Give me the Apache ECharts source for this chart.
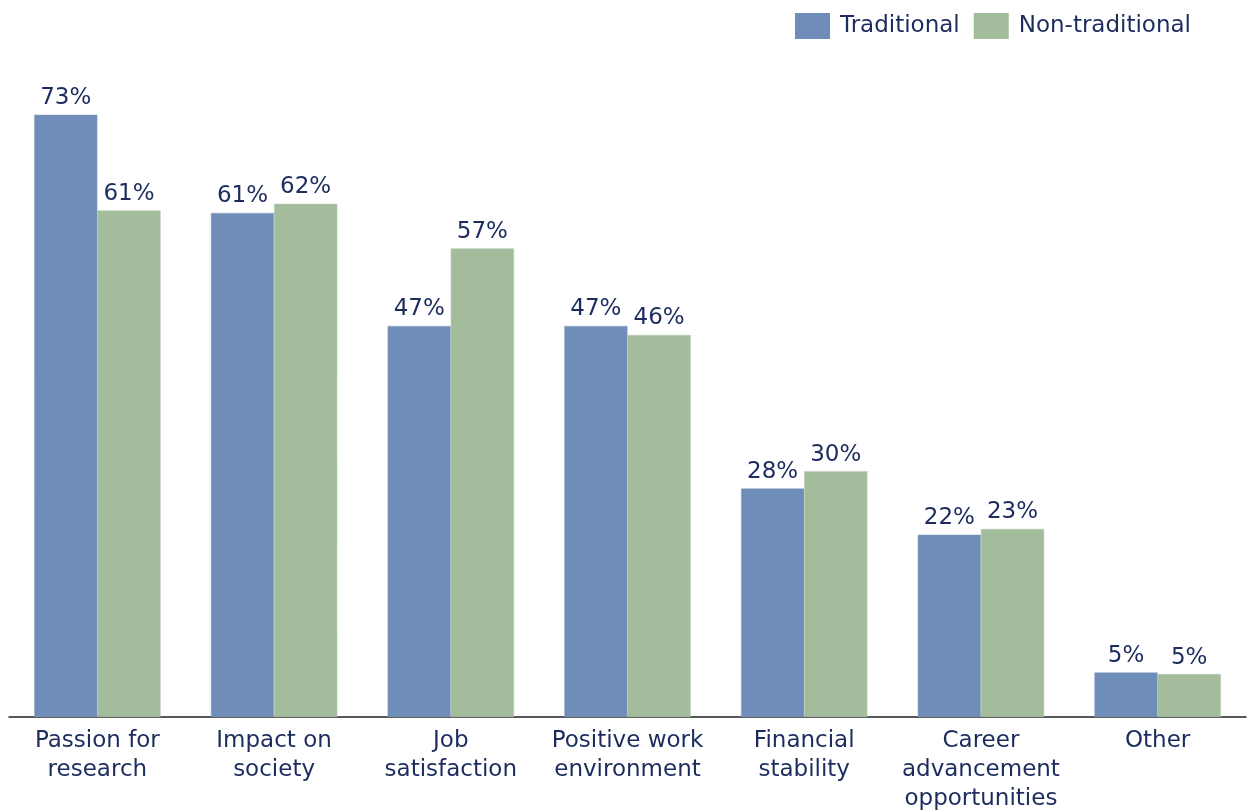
<!DOCTYPE html>
<html>
<head>
<meta charset="utf-8">
<script src="https://cdn.jsdelivr.net/npm/echarts@6/dist/echarts.min.js"></script>
<style>
  html, body { margin: 0; padding: 0; background: #fff; }
  #chart { width: 1248px; height: 812px; }
</style>
</head>
<body>
<div id="chart"></div>
<script>
const categories = [
  'Passion for\nresearch',
  'Impact on\nsociety',
  'Job\nsatisfaction',
  'Positive work\nenvironment',
  'Financial\nstability',
  'Career\nadvancement\nopportunities',
  'Other'
]
const traditional = [73.0, 61.1, 47.4, 47.4, 27.7, 22.1, 5.4]
const nonTraditional = [61.4, 62.2, 56.8, 46.3, 29.8, 22.8, 5.2]

const textColor = '#1c2c5e'
const font = '"DejaVu Sans", "Noto Sans", sans-serif'

const chart = echarts.init(document.getElementById('chart'))

const labelStyle = {
  show: true,
  position: 'top',
  distance: 5,
  color: textColor,
  fontSize: 23,
  fontFamily: font,
  formatter: p => Math.round(p.value) + '%'
}

chart.setOption({
  animation: false,
  legend: {
    right: 52,
    top: 8,
    icon: 'rect',
    itemWidth: 35,
    itemHeight: 26,
    itemGap: 14,
    itemStyle: { borderWidth: 0 },
    textStyle: { color: textColor, fontSize: 23, fontFamily: font, padding: [0, 0, 0, 5] },
    data: ['Traditional', 'Non-traditional']
  },
  grid: { left: 9, right: 2, top: 57, bottom: 95, containLabel: false, outerBoundsMode: 'none' },
  xAxis: {
    type: 'category',
    data: categories,
    axisLine: { lineStyle: { color: '#222', width: 1.5 } },
    axisTick: { show: false },
    axisLabel: {
      color: textColor,
      fontSize: 23,
      fontFamily: font,
      lineHeight: 29,
      margin: 10,
      interval: 0
    }
  },
  yAxis: {
    type: 'value',
    min: 0,
    max: 80,
    show: false,
    splitLine: { show: false }
  },
  series: [
    {
      name: 'Traditional',
      type: 'bar',
      data: traditional,
      barGap: '0%',
      barCategoryGap: '28.5%',
      itemStyle: { color: '#6e8db8', borderColor: '#8ea3c2', borderWidth: 0.5 },
      label: labelStyle
    },
    {
      name: 'Non-traditional',
      type: 'bar',
      data: nonTraditional,
      barGap: '0%',
      barCategoryGap: '28.5%',
      itemStyle: { color: '#a3bd9c', borderColor: '#b5c7b0', borderWidth: 0.5 },
      label: labelStyle
    }
  ]
})

window.addEventListener('resize', () => chart.resize())
</script>
</body>
</html>
